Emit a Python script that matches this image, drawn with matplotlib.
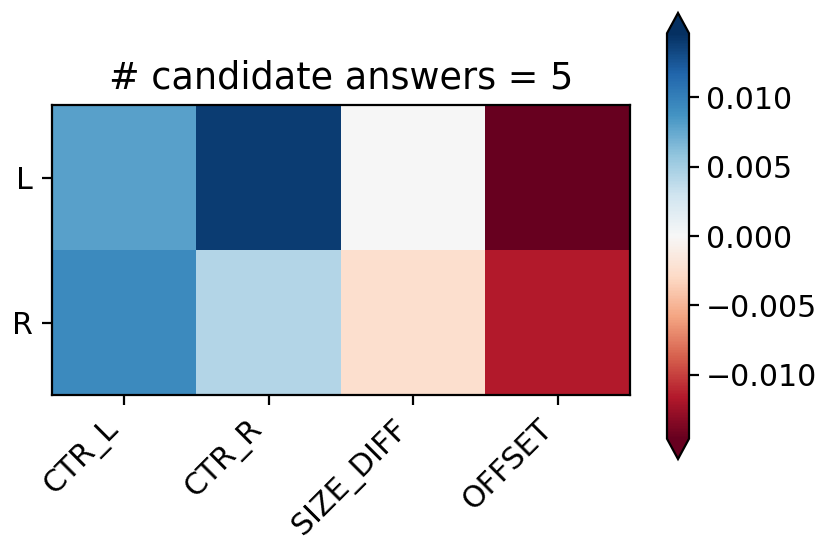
import numpy as np
import matplotlib
matplotlib.use("Agg")
import matplotlib.pyplot as plt

# values
features = ["CTR_L", "CTR_R", "SIZE_DIFF", "OFFSET"]
sides = ["L", "R"]
row_L = [0.0079, 0.0139, 0.0, -0.0146]
row_R = [0.0093, 0.0043, -0.0025, -0.0116]
n_candidates = 5

data = np.array([row_L, row_R])
vlim = np.abs(data).max()

W, H, DPI = 831, 553, 200
fig = plt.figure(figsize=(W / DPI, H / DPI), dpi=DPI)

# axes boxes in pixel coordinates (left, top, right, bottom)
def box(l, t, r, b):
    return [l / W, 1 - b / H, (r - l) / W, (b - t) / H]

ax = fig.add_axes(box(52, 105, 630, 395))
cax = fig.add_axes(box(667, 13, 689, 459))

im = ax.imshow(data, cmap="RdBu", vmin=-vlim, vmax=vlim, aspect="auto")
ax.set_xticks(range(len(features)))
ax.set_xticklabels(features, rotation=45, ha="right", fontsize=10.8)
ax.set_yticks(range(len(sides)))
ax.set_yticklabels(sides, fontsize=10.8)
ax.set_title(f"# candidate answers = {n_candidates}", fontsize=13.2)

cb = fig.colorbar(im, cax=cax, extend="both")
cb.set_ticks([-0.01, -0.005, 0.0, 0.005, 0.01])
cb.ax.tick_params(labelsize=10.8, pad=2.5)

fig.savefig("out.png", dpi=DPI)
